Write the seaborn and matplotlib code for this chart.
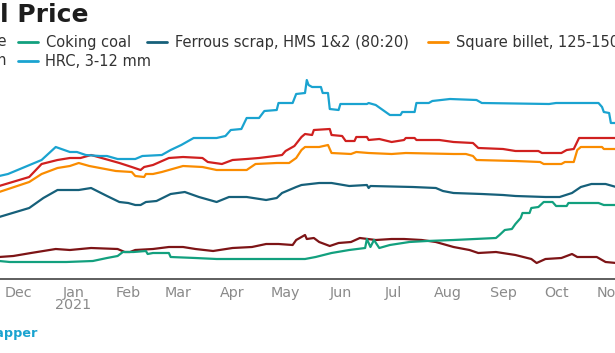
import matplotlib
matplotlib.use("Agg")
import matplotlib.pyplot as plt
from matplotlib.lines import Line2D
import seaborn as sns
import pandas as pd

# ---------------- data ----------------
series_names = ["Iron ore", "Coking coal", "Ferrous scrap, HMS 1&2 (80:20)",
                "Square billet, 125-150 mm", "Pig iron", "HRC, 3-12 mm"]
series_colors = ["#7d1416", "#12a07e", "#16607a", "#fa8c00", "#d0201f", "#1aa3d0"]

hrc_dates = ["2020-11-20", "2020-11-25", "2020-12-14", "2020-12-22", "2020-12-30", "2021-01-03",
             "2021-01-08", "2021-01-16", "2021-01-20", "2021-01-26", "2021-02-05", "2021-02-09",
             "2021-02-20", "2021-02-25", "2021-03-03", "2021-03-05", "2021-03-10", "2021-03-23",
             "2021-03-28", "2021-03-31", "2021-04-06", "2021-04-09", "2021-04-16", "2021-04-19",
             "2021-04-26", "2021-04-27", "2021-05-05", "2021-05-07", "2021-05-12", "2021-05-13",
             "2021-05-14", "2021-05-16", "2021-05-21", "2021-05-22", "2021-05-25", "2021-05-26",
             "2021-05-31", "2021-06-01", "2021-06-16", "2021-06-17", "2021-06-21", "2021-06-25",
             "2021-06-29", "2021-07-05", "2021-07-06", "2021-07-13", "2021-07-14", "2021-07-21",
             "2021-07-23", "2021-08-02", "2021-08-17", "2021-08-20", "2021-09-27", "2021-10-01",
             "2021-10-25", "2021-10-27", "2021-10-28", "2021-10-31", "2021-11-01", "2021-11-04"]
hrc_values = [34200, 34800, 39000, 42900, 41400, 41400,
              40500, 40200, 40200, 39300, 39300, 40200,
              40500, 42000, 43500, 44100, 45600, 45600,
              46200, 48000, 48300, 51600, 51600, 53700,
              54000, 56100, 56100, 58800, 59100, 63000,
              61500, 60900, 60900, 59100, 59100, 54300,
              54000, 55800, 55800, 56100, 55500, 54000,
              52500, 52500, 53400, 53400, 56100, 56100,
              56700, 57300, 57000, 56100, 55800, 56100,
              56100, 54900, 53400, 53100, 50100, 50100]

pig_dates = ["2020-11-20", "2020-12-07", "2020-12-14", "2020-12-23", "2020-12-30", "2021-01-05",
             "2021-01-11", "2021-01-21", "2021-01-27", "2021-02-03", "2021-02-08", "2021-02-10",
             "2021-02-15", "2021-02-24", "2021-03-04", "2021-03-15", "2021-03-18", "2021-03-26",
             "2021-04-01", "2021-04-09", "2021-04-16", "2021-04-25", "2021-04-29", "2021-05-01",
             "2021-05-06", "2021-05-10", "2021-05-12", "2021-05-16", "2021-05-17", "2021-05-26",
             "2021-05-27", "2021-06-02", "2021-06-04", "2021-06-09", "2021-06-10", "2021-06-16",
             "2021-06-17", "2021-06-23", "2021-06-30", "2021-07-07", "2021-07-08", "2021-07-13",
             "2021-07-14", "2021-07-27", "2021-08-04", "2021-08-15", "2021-08-18", "2021-09-01",
             "2021-09-08", "2021-09-21", "2021-09-23", "2021-10-04", "2021-10-07", "2021-10-11",
             "2021-10-14", "2021-10-21", "2021-11-04"]
pig_values = [31200, 33900, 37800, 39000, 39600, 39600,
              40500, 39000, 38100, 36900, 36000, 36900,
              37500, 39600, 39900, 39600, 38400, 37800,
              39000, 39300, 39600, 40200, 40500, 41700,
              43200, 45900, 46800, 46500, 48000, 48300,
              46500, 46200, 44700, 44700, 45900, 45900,
              45000, 45300, 44400, 45000, 45600, 45600,
              45000, 45000, 44400, 44100, 42600, 42300,
              41700, 41700, 41100, 41100, 42000, 42300,
              45600, 45600, 45600]

billet_dates = ["2020-11-20", "2020-12-07", "2020-12-14", "2020-12-23", "2020-12-30", "2021-01-04",
                "2021-01-10", "2021-01-25", "2021-02-03", "2021-02-05", "2021-02-10", "2021-02-11",
                "2021-02-15", "2021-02-20", "2021-03-04", "2021-03-15", "2021-03-23", "2021-04-09",
                "2021-04-14", "2021-04-26", "2021-05-03", "2021-05-07", "2021-05-10", "2021-05-12",
                "2021-05-20", "2021-05-25", "2021-05-27", "2021-06-07", "2021-06-10", "2021-06-17",
                "2021-06-30", "2021-07-08", "2021-08-04", "2021-08-11", "2021-08-15", "2021-08-17",
                "2021-09-08", "2021-09-22", "2021-09-24", "2021-10-04", "2021-10-06", "2021-10-11",
                "2021-10-13", "2021-10-15", "2021-10-27", "2021-10-28", "2021-11-04"]
billet_values = [29400, 32400, 34800, 36600, 37200, 38100,
                 37200, 35700, 35400, 34200, 33900, 34800,
                 34800, 35400, 37200, 36900, 36000, 36000,
                 37800, 38100, 38100, 39600, 42000, 42900,
                 42900, 43500, 41100, 40800, 41400, 41100,
                 40800, 41100, 40800, 40800, 40200, 39000,
                 38700, 38400, 37800, 37800, 38400, 38400,
                 42000, 42900, 42900, 42300, 42300]

scrap_dates = ["2020-11-20", "2020-12-07", "2020-12-15", "2020-12-23", "2021-01-04", "2021-01-11",
               "2021-01-20", "2021-01-27", "2021-02-01", "2021-02-05", "2021-02-08", "2021-02-11",
               "2021-02-17", "2021-02-25", "2021-03-05", "2021-03-13", "2021-03-23", "2021-03-30",
               "2021-04-09", "2021-04-20", "2021-04-26", "2021-04-29", "2021-05-07", "2021-05-10",
               "2021-05-20", "2021-05-27", "2021-06-06", "2021-06-16", "2021-06-17", "2021-06-18",
               "2021-07-12", "2021-07-25", "2021-07-29", "2021-08-04", "2021-08-20", "2021-09-01",
               "2021-09-08", "2021-09-25", "2021-10-03", "2021-10-10", "2021-10-15", "2021-10-21",
               "2021-10-29", "2021-11-04"]
scrap_values = [21900, 24600, 27600, 30000, 30000, 30600,
                28200, 26400, 26100, 25500, 25500, 26400,
                26700, 28800, 29400, 27900, 26400, 27900,
                27900, 27000, 27600, 29100, 30900, 31500,
                32100, 32100, 31200, 31500, 30600, 31200,
                30900, 30600, 29700, 29100, 28800, 28500,
                28200, 27900, 27900, 29100, 30900, 31800,
                31800, 30900]

ore_dates = ["2020-11-20", "2020-11-28", "2020-12-08", "2020-12-22", "2020-12-30", "2021-01-11",
             "2021-01-26", "2021-01-30", "2021-02-02", "2021-02-05", "2021-02-15", "2021-02-24",
             "2021-03-04", "2021-03-11", "2021-03-21", "2021-04-01", "2021-04-12", "2021-04-20",
             "2021-04-27", "2021-05-05", "2021-05-07", "2021-05-09", "2021-05-12", "2021-05-13",
             "2021-05-17", "2021-05-20", "2021-05-26", "2021-05-31", "2021-06-07", "2021-06-12",
             "2021-06-21", "2021-06-30", "2021-07-07", "2021-07-17", "2021-07-25", "2021-07-31",
             "2021-08-04", "2021-08-13", "2021-08-18", "2021-08-28", "2021-09-08", "2021-09-17",
             "2021-09-20", "2021-09-25", "2021-10-04", "2021-10-10", "2021-10-13", "2021-10-24",
             "2021-10-29", "2021-11-04"]
ore_values = [9900, 10200, 11100, 12300, 12000, 12600,
              12300, 11400, 11400, 12000, 12300, 12900,
              12900, 12300, 11700, 12600, 12900, 13800,
              13800, 13500, 15000, 15600, 16500, 15300,
              15600, 14400, 13200, 14100, 14400, 15600,
              15000, 15300, 15300, 15000, 14400, 13500,
              12900, 12000, 11100, 11400, 10500, 9300,
              8100, 9300, 9600, 10800, 9900, 9900,
              8400, 8100]

coal_dates = ["2020-11-20", "2020-11-26", "2020-12-08", "2020-12-28", "2021-01-12", "2021-01-20",
              "2021-01-26", "2021-01-29", "2021-02-04", "2021-02-11", "2021-02-12", "2021-02-15",
              "2021-02-24", "2021-02-25", "2021-03-11", "2021-03-23", "2021-05-12", "2021-05-18",
              "2021-05-27", "2021-06-06", "2021-06-15", "2021-06-16", "2021-06-18", "2021-06-20",
              "2021-06-23", "2021-06-29", "2021-07-10", "2021-07-20", "2021-08-04", "2021-08-28",
              "2021-08-30", "2021-09-02", "2021-09-06", "2021-09-08", "2021-09-11", "2021-09-12",
              "2021-09-16", "2021-09-17", "2021-09-21", "2021-09-24", "2021-09-29", "2021-10-01",
              "2021-10-07", "2021-10-08", "2021-10-25", "2021-10-28", "2021-11-04"]
coal_values = [8700, 8400, 8400, 8400, 8700, 9600,
               10200, 11400, 11400, 11700, 10800, 11100,
               11100, 9900, 9600, 9300, 9300, 9900,
               11100, 12000, 12600, 15300, 12900, 15000,
               12600, 13500, 14400, 14700, 15000, 15600,
               16500, 18000, 18300, 19800, 21600, 23100,
               23100, 24600, 24900, 26400, 26400, 25200,
               25200, 26100, 26100, 25500, 25500]

month_ticks = ["2020-12-01", "2021-01-01", "2021-02-01", "2021-03-01", "2021-04-01", "2021-05-01",
               "2021-06-01", "2021-07-01", "2021-08-01", "2021-09-01", "2021-10-01", "2021-11-01"]
month_labels = ["Dec", "Jan\n2021", "Feb", "Mar", "Apr", "May", "Jun", "Jul", "Aug", "Sep", "Oct", "Nov"]

title_text = "Steel Price"
source_text = "Chart: Created with Datawrapper"

# ---------------- frame ----------------
frames = []
for name, d, v in [
    ("Iron ore", ore_dates, ore_values),
    ("Coking coal", coal_dates, coal_values),
    ("Ferrous scrap, HMS 1&2 (80:20)", scrap_dates, scrap_values),
    ("Square billet, 125-150 mm", billet_dates, billet_values),
    ("Pig iron", pig_dates, pig_values),
    ("HRC, 3-12 mm", hrc_dates, hrc_values),
]:
    frames.append(pd.DataFrame({"date": pd.to_datetime(d), "price": v, "series": name}))
df = pd.concat(frames, ignore_index=True)

# ---------------- figure ----------------
sns.set_theme(style="white")
plt.rcParams["font.family"] = ["DejaVu Sans"]

W, H = 615, 353
fig = plt.figure(figsize=(W / 100, H / 100), dpi=100)
fig.patch.set_facecolor("white")


def fx(px):
    return px / W


def fy(py):
    return 1 - py / H


ax_top, ax_bot = 70, 279
ax = fig.add_axes([0, fy(ax_bot), 1, (ax_bot - ax_top) / H])

sns.lineplot(data=df, x="date", y="price", hue="series", hue_order=series_names,
             palette=series_colors, estimator=None, legend=False, linewidth=1.6, ax=ax)

# x scale: Dec 1 at px 18.6, 1.768 px per day
dec1 = pd.Timestamp("2020-12-01")
ax.set_xlim(dec1 - pd.Timedelta(days=18.6 / 1.768), dec1 + pd.Timedelta(days=(W - 18.6) / 1.768))
ax.set_ylim((290 - ax_bot) * 300, (290 - ax_top) * 300)

ax.set_xticks(pd.to_datetime(month_ticks))
ax.set_xticklabels(month_labels)
ax.tick_params(axis="x", length=0, pad=5, labelsize=10.3, labelcolor="#8a8a8a")
for lbl in ax.get_xticklabels():
    lbl.set_linespacing(0.85)
    lbl.set_verticalalignment("top")
ax.set_yticks([])
ax.set_xlabel("")
ax.set_ylabel("")
for s in ["top", "left", "right"]:
    ax.spines[s].set_visible(False)
ax.spines["bottom"].set_color("#5e5e5e")
ax.spines["bottom"].set_linewidth(1.4)
ax.patch.set_alpha(0)

# ---------------- title ----------------
fig.text(fx(88), fy(22), title_text, ha="right", va="baseline",
         fontsize=18, fontweight="bold", color="#1d1d1d")

# ---------------- legend ----------------
legend_rows = [
    # (colour/name index, marker start px, text x px, row y px, align)
    (0, None, 7, 42, "right"),
    (1, 18, 46, 42, "left"),
    (2, 147, 175, 42, "left"),
    (3, 428, 456, 42, "left"),
    (4, None, 7, 61, "right"),
    (5, 18, 45, 61, "left"),
]
for idx, mstart, tx, ty, ha in legend_rows:
    if mstart is not None:
        fig.add_artist(Line2D([fx(mstart), fx(mstart + 20)], [fy(ty), fy(ty)],
                              color=series_colors[idx], lw=2.0, transform=fig.transFigure))
    fig.text(fx(tx), fy(ty), series_names[idx], ha=ha, va="center",
             fontsize=10.5, color="#333333")

# ---------------- source ----------------
fig.text(fx(37), fy(333), source_text, ha="right", va="center",
         fontsize=9.2, color="#1aa3d0", fontweight="semibold")

fig.savefig("out.png", dpi=100, facecolor="white")
